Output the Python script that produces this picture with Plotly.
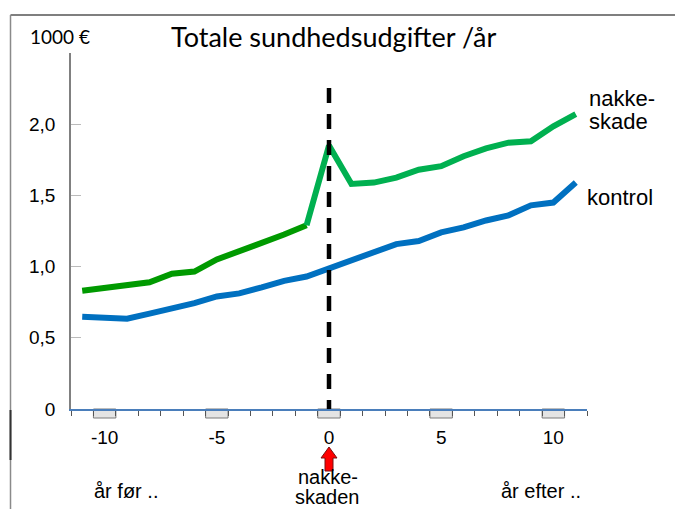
import plotly.graph_objects as go

# Years relative to the neck injury (0 = year of injury)
years = list(range(-11, 12))

# Total health expenditure per year, in 1000 EUR
nakkeskade = [0.83, 0.85, 0.87, 0.89, 0.95, 0.965, 1.05, 1.105, 1.16, 1.225, 1.29,
              1.85, 1.58, 1.59, 1.625, 1.68, 1.705, 1.775, 1.83, 1.87, 1.88, 1.985, 2.07]
kontrol = [0.648, 0.641, 0.634, 0.67, 0.706, 0.743, 0.79, 0.812, 0.854, 0.9, 0.93,
           0.986, 1.05, 1.103, 1.158, 1.18, 1.24, 1.275, 1.324, 1.36, 1.43, 1.45, 1.59]

x_tickvals = [-10, -5, 0, 5, 10]
x_ticktext = ["-10", "-5", "0", "5", "10"]
y_tickvals = [0, 0.5, 1.0, 1.5, 2.0, 2.5]
y_ticktext = ["0", "0,5", "1,0", "1,5", "2,0", ""]

W, H = 675, 509
L, R, T, B = 71.4, 586.6, 53, 409  # plot area in pixels


def px(xp):
    return (xp - L) / (R - L)


def py(yp):
    return (B - yp) / (B - T)


ARIAL = "Liberation Sans, Arial, sans-serif"
CAL = "Lato, Open Sans, sans-serif"

fig = go.Figure()

# before the injury (darker green) and from the year before onward (light green)
split = years.index(-1)
fig.add_trace(go.Scatter(x=years[:split + 1], y=nakkeskade[:split + 1], mode="lines",
                         line=dict(color="#009a00", width=6), hoverinfo="skip"))
fig.add_trace(go.Scatter(x=years[split:], y=nakkeskade[split:], mode="lines",
                         line=dict(color="#00b050", width=6), hoverinfo="skip"))
fig.add_trace(go.Scatter(x=years, y=kontrol, mode="lines",
                         line=dict(color="#0070c0", width=6), hoverinfo="skip"))

shapes = []
# gray tick boxes under the labelled years
for v in x_tickvals:
    shapes.append(dict(type="rect", xref="x", yref="paper", x0=v - 0.5, x1=v + 0.5,
                       y0=py(B + 9), y1=py(B), line=dict(color="#7a7a7a", width=1),
                       fillcolor="#e4e4e4", layer="below"))
# injury marker line
shapes.append(dict(type="line", xref="x", yref="y", x0=0, x1=0, y0=(B - 88) / (B - T) * 2.5, y1=0,
                   line=dict(color="black", width=4.5, dash="15px,11px")))
# red arrow pointing up at year 0
shapes.append(dict(type="path", xref="x", yref="paper", xsizemode="pixel", ysizemode="pixel",
                   xanchor=0, yanchor=0,
                   path="M 0,-38 L 8,-49 L 4,-49 L 4,-62 L -4,-62 L -4,-49 L -8,-49 Z",
                   fillcolor="#ff0000", line=dict(color="#7a1010", width=1)))
# page frame
shapes.append(dict(type="line", xref="paper", yref="paper", x0=px(11), x1=px(W + 2),
                   y0=py(15), y1=py(15), line=dict(color="#555555", width=1.5)))
shapes.append(dict(type="line", xref="paper", yref="paper", x0=px(11), x1=px(11),
                   y0=py(15), y1=py(H + 2), line=dict(color="#8a8a8a", width=1.5)))
shapes.append(dict(type="line", xref="paper", yref="paper", x0=px(11), x1=px(11),
                   y0=py(410), y1=py(460), line=dict(color="#333333", width=2)))

annotations = [
    dict(text="Totale sundhedsudgifter /år", x=px(333), y=py(37), font=dict(family=CAL, size=27, color="black")),
    dict(text="1000 €", x=px(60), y=py(37), font=dict(family=CAL, size=19, color="black")),
    dict(text="nakke-", x=px(587), y=py(98), xanchor="left", font=dict(family=ARIAL, size=22, color="black")),
    dict(text="skade", x=px(587), y=py(121), xanchor="left", font=dict(family=ARIAL, size=22, color="black")),
    dict(text="kontrol", x=px(585), y=py(197), xanchor="left",
         font=dict(family=ARIAL, size=22, color="black")),
    dict(text="år før ..", x=px(126), y=py(491), font=dict(family=ARIAL, size=20, color="black")),
    dict(text="år efter ..", x=px(541), y=py(491), font=dict(family=ARIAL, size=20, color="black")),
    dict(text="nakke-", x=px(328), y=py(477), font=dict(family=ARIAL, size=20, color="black")),
    dict(text="skaden", x=px(328), y=py(497), font=dict(family=ARIAL, size=20, color="black")),
]
for a in annotations:
    a.update(xref="paper", yref="paper", showarrow=False)
    a.setdefault("xanchor", "center")
    a.setdefault("yanchor", "middle")

fig.update_layout(
    width=W, height=H,
    margin=dict(l=L, r=W - R, t=T, b=H - B, pad=0),
    paper_bgcolor="white", plot_bgcolor="white",
    showlegend=False,
    shapes=shapes, annotations=annotations,
    xaxis=dict(range=[-11.5, 11.5], tickvals=x_tickvals, ticktext=x_ticktext, ticks="",
               showgrid=False, zeroline=False, showline=True, linecolor="#4a7ebb", linewidth=1.5,
               tickfont=dict(family=ARIAL, size=19, color="black"), ticklabelstandoff=10,
               minor=dict(ticks="outside", tick0=0.5, dtick=1, ticklen=5, tickcolor="#555555",
                          tickwidth=1, showgrid=False)),
    yaxis=dict(range=[0, 2.5], tickvals=y_tickvals, ticktext=y_ticktext, ticks="inside",
               ticklen=10, tickcolor="#bbbbbb", showgrid=False, zeroline=False,
               showline=True, linecolor="#808080", linewidth=1.5,
               tickfont=dict(family=ARIAL, size=19, color="black"), ticklabelstandoff=10),
)

fig.write_html("out.html")
